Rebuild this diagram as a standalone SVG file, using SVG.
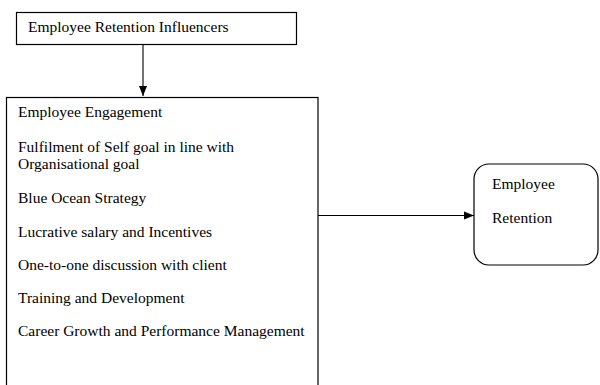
<svg xmlns="http://www.w3.org/2000/svg" width="600" height="385" viewBox="0 0 600 385">
<defs>
<style>
.box{fill:#fff;stroke:#000;stroke-width:1.2}
.t{font-family:"Liberation Serif","Times New Roman",serif;font-size:15.5px;fill:#000}
.c{stroke:#000;stroke-width:1.1;fill:none}
</style>
<marker id="ah" markerWidth="10" markerHeight="10" viewBox="0 0 10 10" refX="10" refY="5" orient="auto" markerUnits="userSpaceOnUse">
<path d="M0,1 L10,5 L0,9 Z" fill="#000"/>
</marker>
</defs>
<rect width="600" height="385" fill="#fff"/>
<g id="connectors">
<line class="c" x1="143" y1="45" x2="143" y2="96" marker-end="url(#ah)"/>
<line class="c" x1="318" y1="215.5" x2="474" y2="215.5" marker-end="url(#ah)"/>
</g>
<g id="influencers">
<rect class="box" x="16.5" y="12.5" width="280" height="32"/>
<text class="t" x="28" y="32">Employee Retention Influencers</text>
</g>
<g id="factors">
<rect class="box" x="6.5" y="97.5" width="311.5" height="300"/>
<text class="t" x="18" y="117">Employee Engagement</text>
<text class="t" x="18" y="152">Fulfilment of Self goal in line with</text>
<text class="t" x="18" y="169">Organisational goal</text>
<text class="t" x="18" y="203">Blue Ocean Strategy</text>
<text class="t" x="18" y="237">Lucrative salary and Incentives</text>
<text class="t" x="18" y="270">One-to-one discussion with client</text>
<text class="t" x="18" y="303">Training and Development</text>
<text class="t" x="18" y="336">Career Growth and Performance Management</text>
</g>
<g id="retention">
<rect class="box" x="474" y="164" width="124" height="101" rx="15" ry="15"/>
<text class="t" x="492" y="189">Employee</text>
<text class="t" x="492" y="223">Retention</text>
</g>
</svg>
